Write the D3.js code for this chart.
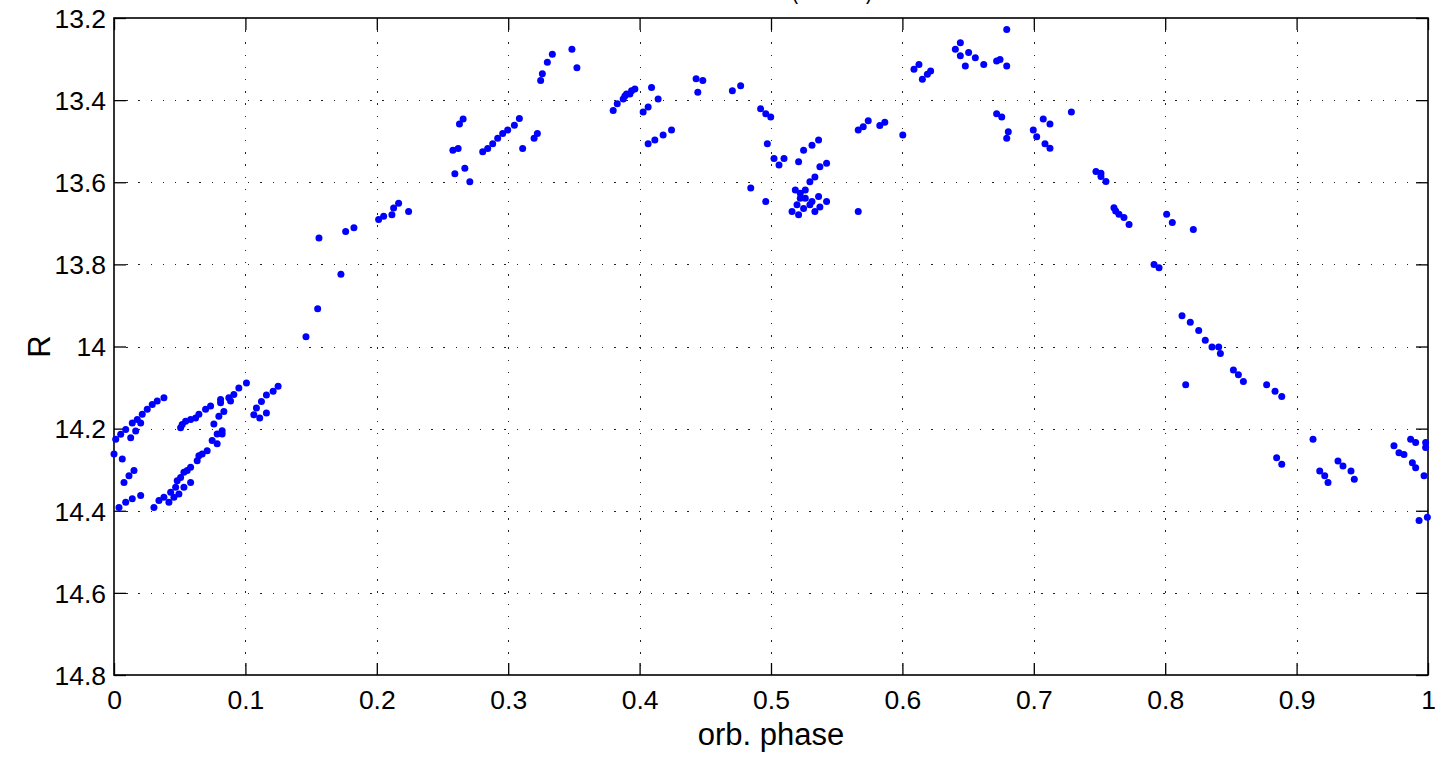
<!DOCTYPE html>
<html>
<head>
<meta charset="utf-8">
<script src="https://cdn.jsdelivr.net/npm/d3@7"></script>
<style>
  html, body { margin: 0; padding: 0; background: #fff; }
  svg { display: block; font-family: "Liberation Sans", Arial, Helvetica, sans-serif; }
</style>
</head>
<body>
<svg id="chart" width="1455" height="760"></svg>
<script>
// ---- data ----
const phase = [
  0.0000,0.0013,0.0051,0.0089,0.0063,0.0076,0.0114,0.0152,0.0038,0.0089,0.0139,0.0203,0.0127,0.0165,0.0139,0.0177,0.0203,0.0215,0.0253,0.0291,0.0329,0.0380,
  0.0304,0.0342,0.0380,0.0418,0.0431,0.0456,0.0469,0.0494,0.0481,0.0507,0.0532,0.0532,0.0557,0.0583,0.0583,0.0633,0.0646,0.0671,0.0709,0.0747,0.0785,0.0760,0.0798,0.0836,0.0785,0.0823,0.0823,
  0.0507,0.0519,0.0545,0.0583,0.0621,0.0646,0.0697,0.0735,0.0811,0.0811,0.0874,0.0887,0.0912,0.0950,0.1008,
  0.1064,0.1084,0.1109,0.1122,0.1160,0.1160,0.1211,0.1249,
  0.1461,0.1550,0.1560,0.1727,0.1763,0.1826,0.2014,0.2052,0.2115,0.2128,0.2166,0.2242,
  0.2579,0.2619,0.2594,0.2629,0.2657,0.2670,0.2708,0.2806,0.2844,0.2882,0.2920,0.2958,0.2996,0.3047,0.3085,0.3110,0.3197,0.3222,0.3247,0.3260,0.3298,0.3336,0.3485,0.3523,
  0.3799,0.3830,0.3875,0.3888,0.3901,0.3926,0.3939,0.3964,0.4027,0.4065,0.4091,0.4141,0.4065,0.4116,0.4179,0.4243,
  0.4430,0.4481,0.4443,0.4706,0.4769,0.4921,0.4960,0.4998,0.4972,0.5023,0.5061,0.5099,0.4846,0.4960,
  0.5210,0.5248,0.5312,0.5362,0.5372,0.5423,0.5334,0.5296,0.5185,0.5261,0.5223,0.5223,0.5261,0.5362,0.5312,0.5423,0.5296,0.5198,0.5372,0.5248,0.5160,0.5210,0.5334,
  0.5664,0.5702,0.5740,0.5664,0.5828,0.5866,0.6003,
  0.6088,0.6126,0.6152,0.6190,0.6215,0.6403,0.6441,0.6441,0.6479,0.6504,0.6555,0.6619,0.6717,0.6743,0.6794,0.6794,
  0.6717,0.6756,0.6806,0.6794,0.6996,0.7022,0.7072,0.7123,0.7085,0.7123,0.7286,
  0.7473,0.7511,0.7511,0.7549,0.7610,0.7623,0.7648,0.7686,0.7725,0.8011,0.8054,0.8214,
  0.7915,0.7953,0.8128,0.8191,0.8255,0.8305,0.8356,0.8407,0.8420,0.8156,0.8519,0.8557,0.8595,0.8772,0.8836,0.8887,
  0.8848,0.8887,0.9125,0.9176,0.9214,0.9239,0.9315,0.9353,0.9414,0.9439,
  0.9741,0.9779,0.9817,0.9868,0.9906,0.9881,0.9906,0.9970,0.9982,0.9982,0.9932,0.9995
];
const magR = [
  14.262,14.226,14.214,14.202,14.274,14.331,14.315,14.302,14.392,14.379,14.371,14.363,14.222,14.206,14.186,14.178,14.186,14.165,14.153,14.141,14.133,14.125,
  14.392,14.375,14.367,14.379,14.355,14.367,14.343,14.359,14.327,14.319,14.343,14.306,14.302,14.331,14.294,14.278,14.266,14.262,14.254,14.229,14.237,14.189,14.170,14.158,14.213,14.205,14.213,
  14.198,14.190,14.182,14.178,14.174,14.165,14.153,14.145,14.129,14.137,14.125,14.133,14.117,14.101,14.089,
  14.166,14.150,14.174,14.134,14.118,14.162,14.109,14.097,
  13.976,13.908,13.736,13.824,13.720,13.711,13.691,13.683,13.679,13.663,13.651,13.671,
  13.522,13.518,13.579,13.458,13.446,13.566,13.599,13.526,13.518,13.506,13.493,13.481,13.473,13.461,13.445,13.518,13.493,13.481,13.352,13.336,13.308,13.288,13.276,13.321,
  13.425,13.409,13.397,13.390,13.385,13.385,13.377,13.373,13.429,13.417,13.369,13.397,13.506,13.497,13.485,13.473,
  13.348,13.352,13.381,13.377,13.365,13.421,13.433,13.441,13.506,13.542,13.558,13.542,13.614,13.647,
  13.550,13.522,13.510,13.497,13.562,13.554,13.587,13.599,13.619,13.619,13.627,13.639,13.639,13.635,13.647,13.647,13.655,13.655,13.660,13.664,13.671,13.679,13.671,
  13.473,13.465,13.450,13.671,13.462,13.454,13.485,
  13.325,13.313,13.349,13.337,13.329,13.276,13.260,13.292,13.317,13.284,13.297,13.313,13.305,13.301,13.317,13.228,
  13.433,13.441,13.477,13.493,13.473,13.489,13.446,13.458,13.506,13.517,13.429,
  13.574,13.578,13.586,13.598,13.662,13.670,13.678,13.686,13.703,13.678,13.698,13.715,
  13.800,13.808,13.925,13.941,13.961,13.985,14.001,14.001,14.017,14.093,14.057,14.069,14.085,14.093,14.109,14.122,
  14.271,14.287,14.226,14.303,14.315,14.331,14.279,14.291,14.303,14.323,
  14.242,14.259,14.263,14.226,14.234,14.283,14.295,14.315,14.234,14.246,14.424,14.416
];
const xTicks = [0,0.1,0.2,0.3,0.4,0.5,0.6,0.7,0.8,0.9,1];
const xTickLabels = ["0","0.1","0.2","0.3","0.4","0.5","0.6","0.7","0.8","0.9","1"];
const yTicks = [13.2,13.4,13.6,13.8,14.0,14.2,14.4,14.6,14.8];
const yTickLabels = ["13.2","13.4","13.6","13.8","14","14.2","14.4","14.6","14.8"];
const xLabel = "orb. phase";
const yLabel = "R";
const titleText = "(R band)";

// ---- drawing ----
const svg = d3.select("#chart");
const L = 114, R = 1428, T = 18, B = 675;
const x = d3.scaleLinear().domain([0, 1]).range([L, R]);
const y = d3.scaleLinear().domain([13.2, 14.8]).range([T, B]);

// grid
const grid = svg.append("g").attr("stroke", "#222").attr("stroke-width", 1)
  .attr("stroke-dasharray", "1.3,10.9").attr("shape-rendering", "crispEdges");
grid.selectAll("line.gx").data(xTicks.slice(1, -1)).join("line")
  .attr("x1", d => Math.round(x(d)) + 0.5).attr("x2", d => Math.round(x(d)) + 0.5)
  .attr("y1", T).attr("y2", B);
grid.selectAll("line.gy").data(yTicks.slice(1, -1)).join("line")
  .attr("y1", d => Math.round(y(d)) + 0.5).attr("y2", d => Math.round(y(d)) + 0.5)
  .attr("x1", L).attr("x2", R);

// axes (ticks inward, labels)
const tickLen = 12;
const axB = svg.append("g").attr("transform", `translate(0,${B})`)
  .call(d3.axisBottom(x).tickValues(xTicks).tickFormat((d, i) => xTickLabels[i]).tickSizeInner(-tickLen).tickSizeOuter(0).tickPadding(15));
const axT = svg.append("g").attr("transform", `translate(0,${T})`)
  .call(d3.axisTop(x).tickValues(xTicks).tickFormat("").tickSizeInner(-tickLen).tickSizeOuter(0));
const axL = svg.append("g").attr("transform", `translate(${L},0)`)
  .call(d3.axisLeft(y).tickValues(yTicks).tickFormat((d, i) => yTickLabels[i]).tickSizeInner(-tickLen).tickSizeOuter(0).tickPadding(8));
const axR = svg.append("g").attr("transform", `translate(${R},0)`)
  .call(d3.axisRight(y).tickValues(yTicks).tickFormat("").tickSizeInner(-tickLen).tickSizeOuter(0));
[axB, axT, axL, axR].forEach(a => {
  a.select(".domain").remove();
  a.selectAll(".tick line").attr("stroke", "#000").attr("stroke-width", 1.3);
  a.selectAll(".tick text").attr("fill", "#000").style("font-size", "26.5px")
    .style("font-family", '"Liberation Sans", Arial, sans-serif');
});
axB.selectAll(".tick text").attr("dy", "0.71em");
axL.selectAll(".tick text").attr("dy", "0.35em");

// box
svg.append("rect").attr("x", L).attr("y", T).attr("width", R - L).attr("height", B - T)
  .attr("fill", "none").attr("stroke", "#000").attr("stroke-width", 1.6);

// points
svg.append("g").selectAll("circle").data(phase.map((p, i) => [p, magR[i]])).join("circle")
  .attr("cx", d => x(d[0])).attr("cy", d => y(d[1])).attr("r", 3.5).attr("fill", "#0000ff");

// labels
svg.append("text").attr("x", (L + R) / 2).attr("y", 745).attr("text-anchor", "middle")
  .style("font-size", "31px").attr("fill", "#000").text(xLabel);
svg.append("text").attr("transform", `translate(50,${(T + B) / 2}) rotate(-90)`).attr("text-anchor", "middle")
  .style("font-size", "31px").attr("fill", "#000").text(yLabel);
svg.append("text").attr("x", 791).attr("y", -2).attr("textLength", 82).attr("lengthAdjust", "spacingAndGlyphs")
  .style("font-size", "27px").attr("fill", "#000").text(titleText);
</script>
</body>
</html>
